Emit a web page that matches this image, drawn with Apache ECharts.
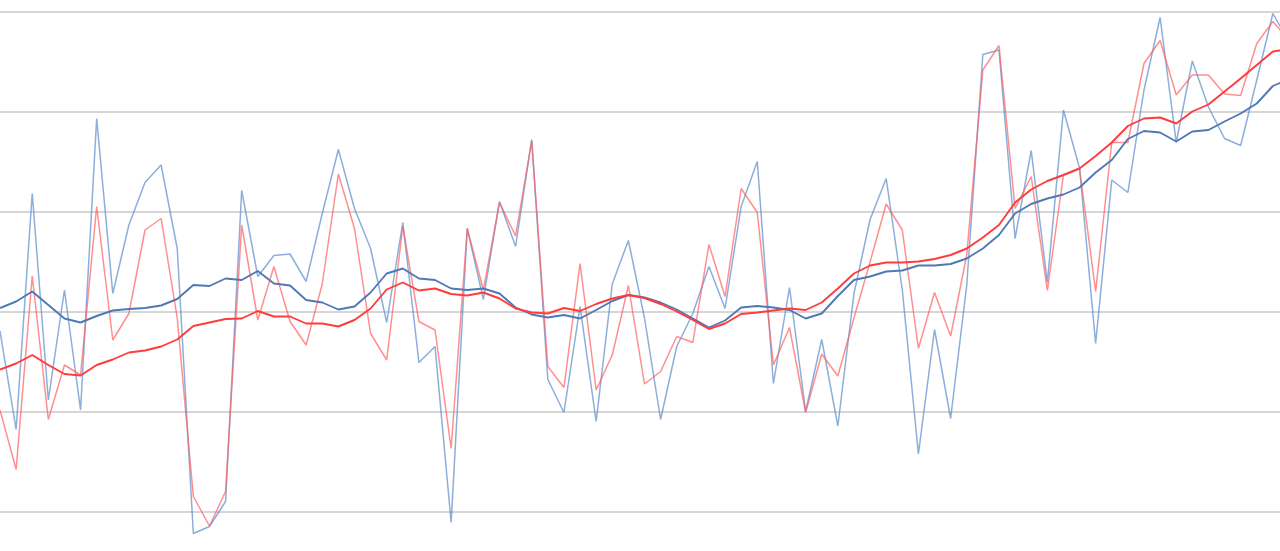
<!DOCTYPE html>
<html>
<head>
<meta charset="utf-8">
<script src="https://cdn.jsdelivr.net/npm/echarts@6/dist/echarts.min.js"></script>
<style>
  html, body { margin: 0; padding: 0; background: #ffffff; overflow: hidden; width: 1280px; height: 551px; }
  #chart { width: 1300px; height: 620px; }
</style>
</head>
<body>
<div id="chart"></div>
<script>
// Category indices (x positions)
const categories = Array.from({length: 81}, (_, i) => String(i + 1));

// Light blue series (raw)
const seriesA = [36.2,16.5,63.7,22.4,44.4,20.4,78.7,43.7,57.4,65.9,
  69.4,52.7,-4.3,-2.9,2.1,64.3,47.1,51.3,51.6,46.1,
  59.7,72.5,60.7,52.7,37.9,57.9,29.9,33.1,-2.1,56.7,
  42.5,62.1,53.1,74.5,26.5,19.9,41.1,18.1,45.6,54.3,
  38.8,18.5,33.1,39.7,49.1,40.7,61.1,70.1,25.7,44.9,
  20.1,34.5,17.2,43.7,58.5,66.7,44.4,11.6,36.5,18.7,
  45.4,91.5,92.4,54.7,72.3,45.9,80.4,68.8,33.7,66.4,
  63.9,84.4,98.9,73.9,90.2,81.0,74.7,73.3,86.4,99.7,94.0];

// Light red series (raw)
const seriesB = [20.4,8.5,47.2,18.5,29.4,27.4,61.1,34.4,39.7,56.4,
  58.7,38.8,3.1,-2.8,4.1,57.4,38.4,49.1,38.1,33.4,
  45.6,67.6,56.7,35.7,30.4,57.1,38.1,36.4,12.7,56.7,
  44.4,61.9,55.2,74.3,29.1,24.9,49.7,24.4,31.4,45.3,
  25.6,28.1,35.1,33.9,53.5,43.1,64.7,59.9,29.4,36.9,
  19.9,31.6,27.2,38.8,50.0,61.6,56.4,32.7,43.9,35.2,
  51.4,88.4,93.3,60.7,67.1,44.3,67.4,68.7,44.1,73.9,
  73.9,89.7,94.3,83.4,87.4,87.4,83.6,83.3,93.7,98.1,94.4];

// Dark blue series (smoothed trend)
const trendA = [40.8,42.1,44.1,41.4,38.7,37.9,39.2,40.3,40.6,40.8,
  41.3,42.6,45.4,45.2,46.7,46.4,48.2,45.7,45.3,42.4,
  41.9,40.5,41.1,43.9,47.7,48.7,46.7,46.4,44.7,44.4,
  44.7,43.7,40.9,39.5,38.9,39.4,38.7,40.4,42.2,43.4,
  42.9,41.9,40.5,38.7,36.9,38.3,40.9,41.2,40.9,40.4,
  38.7,39.7,43.2,46.4,47.1,48.1,48.3,49.3,49.3,49.6,
  50.7,52.7,55.4,59.7,61.6,62.7,63.5,64.9,67.9,70.4,
  74.6,76.2,75.9,74.1,76.1,76.4,78.1,79.7,81.7,85.2,86.6];

// Dark red series (smoothed trend)
const trendB = [28.5,29.7,31.4,29.4,27.6,27.3,29.4,30.5,31.9,32.3,
  33.1,34.5,37.2,37.9,38.6,38.7,40.2,39.1,39.1,37.7,
  37.7,37.1,38.4,40.7,44.5,45.9,44.3,44.7,43.6,43.3,
  43.9,42.7,40.7,39.9,39.7,40.8,40.2,41.6,42.7,43.4,
  42.8,41.6,40.1,38.4,36.6,37.7,39.6,39.9,40.3,40.7,
  40.4,41.9,44.7,47.7,49.3,49.9,49.9,50.1,50.6,51.4,
  52.7,54.9,57.4,61.9,64.5,66.2,67.4,68.7,71.2,73.9,
  77.2,78.7,78.9,77.7,80.1,81.5,84.1,86.7,89.4,92.1,92.6];

const chart = echarts.init(document.getElementById('chart'), null, {renderer: 'canvas'});

function lineSeries(name, data, color, width, z) {
  return {
    name: name,
    type: 'line',
    data: data,
    showSymbol: false,
    symbol: 'none',
    smooth: false,
    z: z,
    lineStyle: { color: color, width: width },
    itemStyle: { color: color }
  };
}

chart.setOption({
  animation: false,
  backgroundColor: '#ffffff',
  grid: { left: -1, top: 12, width: 1290, height: 600, containLabel: false },
  xAxis: {
    type: 'category',
    data: categories,
    boundaryGap: false,
    axisLine: { show: false },
    axisTick: { show: false },
    axisLabel: { show: false },
    splitLine: { show: false }
  },
  yAxis: {
    type: 'value',
    min: -20,
    max: 100,
    interval: 20,
    axisLine: { show: false },
    axisTick: { show: false },
    axisLabel: { show: false },
    splitLine: { show: true, lineStyle: { color: '#c8c8c8', width: 1.6 } }
  },
  series: [
    lineSeries('A', seriesA, 'rgba(90,140,205,0.7)', 1.5, 2),
    lineSeries('B', seriesB, 'rgba(255,95,95,0.7)', 1.5, 3),
    lineSeries('A trend', trendA, '#4f78b5', 1.9, 4),
    lineSeries('B trend', trendB, '#ff3b3b', 1.9, 5)
  ]
});
</script>
</body>
</html>
